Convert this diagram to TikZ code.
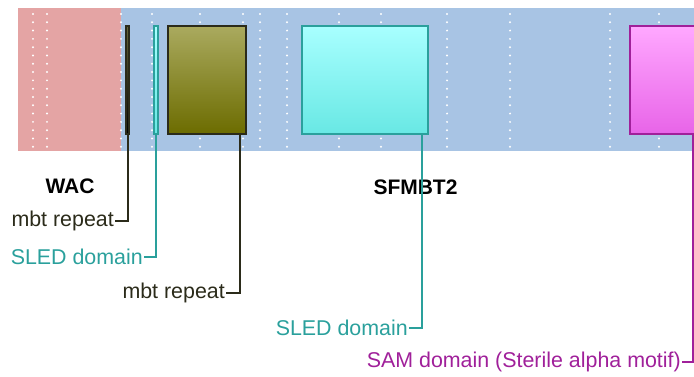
\documentclass[tikz,border=0pt]{standalone}
\usepackage{fontspec}
\setmainfont{Liberation Sans}
\usetikzlibrary{positioning,calc}
\definecolor{SFpink}{RGB}{228,164,164}
\definecolor{SFblue}{RGB}{168,196,228}
\definecolor{SFmbt}{RGB}{43,43,26}
\definecolor{SFolivetop}{RGB}{170,170,95}
\definecolor{SFolivebot}{RGB}{108,108,0}
\definecolor{SFteal}{RGB}{42,160,156}
\definecolor{SFcyantop}{RGB}{168,255,255}
\definecolor{SFcyanbot}{RGB}{104,232,228}
\definecolor{SFpurple}{RGB}{160,32,154}
\definecolor{SFmagtop}{RGB}{255,168,255}
\definecolor{SFmagbot}{RGB}{232,100,232}
\tikzset{
  sf domain/.style={
    line width=2pt,
    minimum height=108pt,
    inner sep=0pt,
    anchor=north west
  },
  sf mbt/.style={sf domain,draw=SFmbt,top color=SFolivetop,bottom color=SFolivebot},
  sf sled/.style={sf domain,draw=SFteal,top color=SFcyantop,bottom color=SFcyanbot},
  sf sam/.style={sf domain,draw=SFpurple,top color=SFmagtop,bottom color=SFmagbot},
  sf label/.style={
    anchor=east,
    inner sep=1pt,
    font=\fontsize{21.4}{24}\selectfont
  },
  sf region/.style={font=\fontsize{21}{24}\selectfont\bfseries,inner sep=1pt},
  sf link/.style={line width=2pt}
}

\begin{document}
\begin{tikzpicture}[x=1pt,y=-1pt]
  \useasboundingbox (0,0) rectangle (694,377);
  \clip (0,0) rectangle (694,377);

  \fill[SFpink] (18,8) rectangle (121,151);
  \fill[SFblue] (121,8) rectangle (700,151);
  \foreach \x in {33,47,121,152,200,243,260,287,339,381,447,510,610,659}
    \foreach \k in {0,...,16}
      \fill[white] (\x,14+\k*8.3) circle (1.1pt);

  \node[sf mbt,minimum width=3pt,top color=SFolivetop!60!black,bottom color=black]
    (mbt-a) at (125,25) {};
  \node[sf sled,minimum width=4pt] (sled-a) at (153,25) {};
  \node[sf mbt,minimum width=77.7pt] (mbt-b) at (167.3,25) {};
  \node[sf sled,minimum width=126.6pt] (sled-b) at (300.7,25) {};
  \node[sf sam,minimum width=130pt] (sam) at (629.3,25) {};

  \node[sf region] (wac) at (70,186) {WAC};
  \node[sf region] (sfmbt) at (415.5,187) {SFMBT2};

  \node[sf label,text=SFmbt] (mbt-a-label) at (115,221) {mbt repeat};
  \node[sf label,text=SFteal] (sled-a-label) at (144,257) {SLED domain};
  \node[sf label,text=SFmbt] (mbt-b-label) at (226,293) {mbt repeat};
  \node[sf label,text=SFteal] (sled-b-label) at (409,328) {SLED domain};
  \node[sf label,text=SFpurple] (sam-label) at (682,362)
    {SAM domain (Sterile alpha motif)};

  \draw[sf link,SFmbt] (mbt-a.south) |- (mbt-a-label.east);
  \draw[sf link,SFteal] (sled-a.south) |- (sled-a-label.east);
  \draw[sf link,SFmbt] ([xshift=-7.3pt]mbt-b.south east) |- (mbt-b-label.east);
  \draw[sf link,SFteal] ([xshift=-7.3pt]sled-b.south east) |- (sled-b-label.east);
  \draw[sf link,SFpurple] ([xshift=64pt]sam.south west) |- (sam-label.east);
\end{tikzpicture}
\end{document}
